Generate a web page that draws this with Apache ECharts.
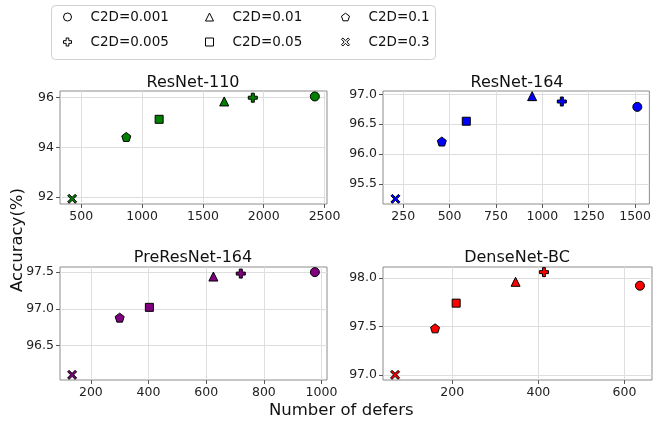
<!DOCTYPE html>
<html>
<head>
<meta charset="utf-8">
<script src="https://cdn.jsdelivr.net/npm/echarts@6/dist/echarts.min.js"></script>
<style>
  html, body { margin: 0; padding: 0; background: #fff; }
  #chart { width: 654px; height: 423px; }
</style>
</head>
<body>
<div id="chart"></div>
<script>
// C2D levels, same order in every panel
const c2dNames = ['C2D=0.001', 'C2D=0.005', 'C2D=0.01', 'C2D=0.05', 'C2D=0.1', 'C2D=0.3'];

// number of defers / accuracy per model
const resnet110Defers = [2420, 1910, 1675, 1140, 870, 425];
const resnet110Acc    = [96.05, 96.0, 95.85, 95.13, 94.42, 91.93];
const resnet164Defers = [1512, 1105, 945, 590, 458, 208];
const resnet164Acc    = [96.79, 96.88, 96.97, 96.55, 96.21, 95.25];
const preresnetDefers = [977, 720, 625, 403, 300, 135];
const preresnetAcc    = [97.50, 97.48, 97.44, 97.02, 96.88, 96.10];
const densenetDefers  = [636, 413, 347, 209, 160, 67];
const densenetAcc     = [97.92, 98.06, 97.96, 97.74, 97.48, 97.00];

// tick labels per panel
const xTicks110 = [500, 1000, 1500, 2000, 2500];
const yTicks110 = [92, 94, 96];
const xTicks164 = [250, 500, 750, 1000, 1250, 1500];
const yTicks164 = [95.5, 96.0, 96.5, 97.0];
const xTicksPre = [200, 400, 600, 800, 1000];
const yTicksPre = [96.5, 97.0, 97.5];
const xTicksDense = [200, 400, 600];
const yTicksDense = [97.0, 97.5, 98.0];

// axis ranges (with matplotlib-like margins)
const xRange110 = [325, 2520];
const yRange110 = [91.72, 96.27];
const xRange164 = [141, 1577];
const yRange164 = [95.164, 97.056];
const xRangePre = [93, 1019];
const yRangePre = [96.03, 97.57];
const xRangeDense = [39, 664];
const yRangeDense = [96.947, 98.113];

const FONT = 'DejaVu Sans';

// marker shapes
const symPlus = 'path://M-1,-3H1V-1H3V1H1V3H-1V1H-3V-1H-1Z';
const symPenta = 'path://M0,-1L0.951,-0.309L0.588,0.809L-0.588,0.809L-0.951,-0.309Z';
const symX = 'path://M-2,-3L0,-1L2,-3L3,-2L1,0L3,2L2,3L0,1L-2,3L-3,2L-1,0L-3,-2Z';
const symbols = ['circle', symPlus, 'triangle', 'rect', symPenta, symX];
const sizes = [9, 9, 9, 8, 9, 9];

const panels = [
  { title: 'ResNet-110', xs: resnet110Defers, ys: resnet110Acc, xt: xTicks110, yt: yTicks110, xr: xRange110, yr: yRange110, color: '#008000', dec: 0,
    grid: { left: 60, right: 327, top: 91, bottom: 219 }, tx: 193, ty: 75 },
  { title: 'ResNet-164', xs: resnet164Defers, ys: resnet164Acc, xt: xTicks164, yt: yTicks164, xr: xRange164, yr: yRange164, color: '#0000ff', dec: 1,
    grid: { left: 383, right: 2, top: 91, bottom: 219 }, tx: 517, ty: 75 },
  { title: 'PreResNet-164', xs: preresnetDefers, ys: preresnetAcc, xt: xTicksPre, yt: yTicksPre, xr: xRangePre, yr: yRangePre, color: '#800080', dec: 1,
    grid: { left: 60, right: 327, top: 267, bottom: 43 }, tx: 193, ty: 250 },
  { title: 'DenseNet-BC', xs: densenetDefers, ys: densenetAcc, xt: xTicksDense, yt: yTicksDense, xr: xRangeDense, yr: yRangeDense, color: '#ff0000', dec: 1,
    grid: { left: 383, right: 2, top: 267, bottom: 43 }, tx: 517, ty: 250 }
];

const gridColor = '#dedede';
const frameColor = '#8c8c8c';

function axisCommon(ticks, dec) {
  return {
    axisLine: { show: false },
    axisTick: { show: true, customValues: ticks, length: 4, lineStyle: { color: '#555' } },
    axisLabel: {
      customValues: ticks, margin: 6, color: '#222', fontFamily: FONT, fontSize: 12.5,
      formatter: v => Number(v).toFixed(dec)
    },
    splitLine: { show: true, lineStyle: { color: gridColor, width: 1 } }
  };
}

const grids = [], xAxes = [], yAxes = [], titles = [], series = [];
panels.forEach((p, i) => {
  grids.push(Object.assign({ show: true, borderColor: frameColor, borderWidth: 1, backgroundColor: 'transparent' }, p.grid));
  xAxes.push(Object.assign({ type: 'value', gridIndex: i, min: p.xr[0], max: p.xr[1] }, axisCommon(p.xt, 0)));
  yAxes.push(Object.assign({ type: 'value', gridIndex: i, min: p.yr[0], max: p.yr[1] }, axisCommon(p.yt, p.dec)));
  titles.push({
    text: p.title, left: p.tx, top: p.ty, textAlign: 'center', padding: 0,
    textStyle: { fontFamily: FONT, fontSize: 16, fontWeight: 'normal', color: '#111' }
  });
  c2dNames.forEach((name, k) => {
    series.push({
      name: name, type: 'scatter', xAxisIndex: i, yAxisIndex: i,
      symbol: symbols[k], symbolSize: sizes[k],
      itemStyle: { color: p.color, borderColor: '#000', borderWidth: 1, opacity: 1 },
      data: [[p.xs[k], p.ys[k]]],
      z: 3
    });
  });
});

// legend: three columns, two rows (matplotlib ncol=3 order)
const legendCols = [[0, 1], [2, 3], [4, 5]];
const legendLeft = [63, 205, 341];
const legends = legendCols.map((col, c) => ({
  orient: 'vertical', left: legendLeft[c], top: 8,
  itemWidth: 8, itemHeight: 8, itemGap: 7, padding: 0,
  selectedMode: false,
  textStyle: { fontFamily: FONT, fontSize: 13.5, color: '#111', lineHeight: 18, padding: [0, 0, 0, 14] },
  data: col.map(k => ({
    name: c2dNames[k], icon: symbols[k],
    itemStyle: { color: '#fff', borderColor: '#000', borderWidth: 1 }
  }))
}));

const chart = echarts.init(document.getElementById('chart'), null, { renderer: 'canvas' });
chart.setOption({
  animation: false,
  backgroundColor: '#fff',
  title: titles,
  legend: legends,
  grid: grids,
  xAxis: xAxes,
  yAxis: yAxes,
  series: series,
  graphic: [
    { type: 'rect', left: 49, top: 3, shape: { width: 384, height: 54, r: 4 },
      style: { fill: 'none', stroke: '#d0d0d0', lineWidth: 1 }, z: -1 },
    { type: 'text', left: 269, top: 402,
      style: { text: 'Number of defers', font: '16.5px "DejaVu Sans"', fill: '#111' } },
    { type: 'text', x: 18, y: 240, rotation: Math.PI / 2,
      style: { text: 'Accuracy(%)', font: '16.5px "DejaVu Sans"', fill: '#111', align: 'center', verticalAlign: 'middle' } }
  ]
});
</script>
</body>
</html>
